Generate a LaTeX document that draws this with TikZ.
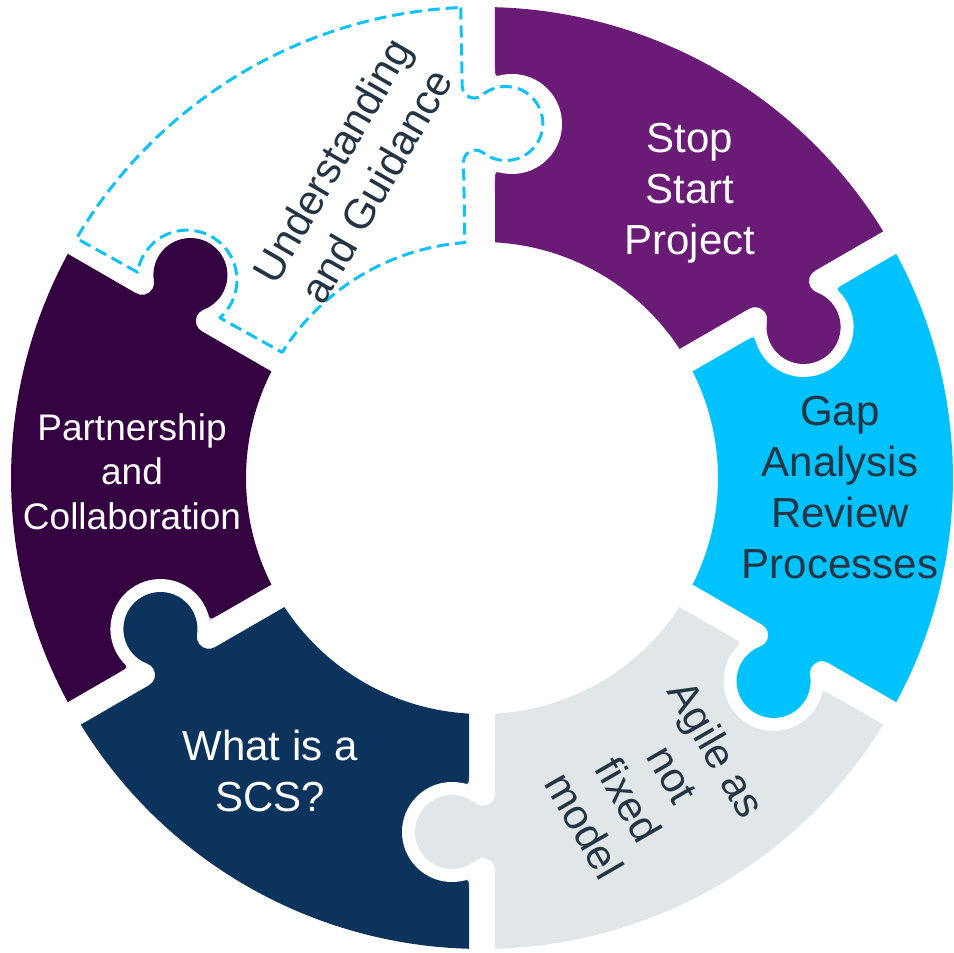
\documentclass[tikz,border=0pt]{standalone}
\usepackage{fontspec}
\setmainfont{Liberation Sans}
\definecolor{purp}{HTML}{6A1B75}
\definecolor{cyanp}{HTML}{00C2FF}
\definecolor{grayp}{HTML}{E1E6E9}
\definecolor{navyp}{HTML}{0B335C}
\definecolor{darkp}{HTML}{350241}
\definecolor{dashc}{HTML}{12C1F7}
\definecolor{txtd}{HTML}{243442}
\tikzset{
  lbl/.style={inner sep=0pt, align=center, font=\fontsize{42}{51}\selectfont},
  whitetxt/.style={lbl, text=white},
  darktxt/.style={lbl, text=txtd},
  dashpiece/.style={draw=dashc, line width=3pt, dash pattern=on 12pt off 6pt, line join=round}
}
\begin{document}
\begin{tikzpicture}[x=1pt, y=1pt]
\useasboundingbox (0,0) rectangle (954,953);
\begin{scope}[shift={(482,475)}]
  % plain sectors
  \foreach \a/\b/\col in {30/90/purp, -30/30/cyanp, -90/-30/grayp, -150/-90/navyp, 150/210/darkp}{
    \fill[\col] ({\a+1.5818}:471) arc[start angle={\a+1.5818}, end angle={\b-1.5818}, radius=471]
      -- ({\b-3.1578}:236) arc[start angle={\b-3.1578}, end angle={\a+3.1578}, radius=236] -- cycle;
  }
  % cavities cut into the clockwise neighbour
  \foreach \th in {30,-30,-90,-150,90}{
    \fill[white, rotate={\th-90}] (30,354) circle[radius=50];
    \fill[white, rotate={\th-90}] (13,297.98) -- (13,306.98) -- (21.42,304.74) .. controls (13,306.98) .. (13,297.98) -- cycle;
    \fill[white, rotate={\th-90}] (13,410.02) -- (13,401.02) -- (21.42,403.26) .. controls (13,401.02) .. (13,410.02) -- cycle;
  }
  % knobs
  \foreach \th/\col in {30/purp, -30/cyanp, -90/grayp, -150/navyp, 150/darkp}{
    \fill[\col, rotate={\th-90}] (-30,391.95) -- (-13,391.95)
      arc[start angle=180, end angle=309.24, radius=12]
      arc[start angle=129.24, end angle=-129.24, radius=37]
      arc[start angle=50.76, end angle=180, radius=12]
      -- (-30,316.05) -- cycle;
  }
  % missing (dashed) piece
  \draw[dashpiece, rotate=1.0] (91.5818:471) -- (-13,391.95)
      arc[start angle=180, end angle=309.24, radius=12]
      arc[start angle=129.24, end angle=-129.24, radius=37]
      arc[start angle=50.76, end angle=180, radius=12]
      -- (93.1578:236) arc[start angle=93.1578, end angle=146.8422, radius=236]
      -- (-259.35,164.75) arc[start angle=-49.88, end angle=169.88, radius=50]
      -- (148.4182:471) arc[start angle=148.4182, end angle=91.5818, radius=471] -- cycle;
\end{scope}
% labels
\node[whitetxt] (stop) at (690,760) {Stop\\Start\\Project};
\node[darktxt] (gap) at (840,465) {Gap\\Analysis\\Review\\Processes};
\node[darktxt, rotate=-60] (agile) at (651,166) {Agile as\\not\\fixed\\model};
\node[whitetxt] (scs) at (270,182) {What is a\\SCS?};
\node[whitetxt, font=\fontsize{37}{44.6}\selectfont] (partner) at (132,481.5) {Partnership\\and\\Collaboration};
\node[darktxt, rotate=60] (underst) at (354,780) {Understanding\\and Guidance};
\end{tikzpicture}
\end{document}
